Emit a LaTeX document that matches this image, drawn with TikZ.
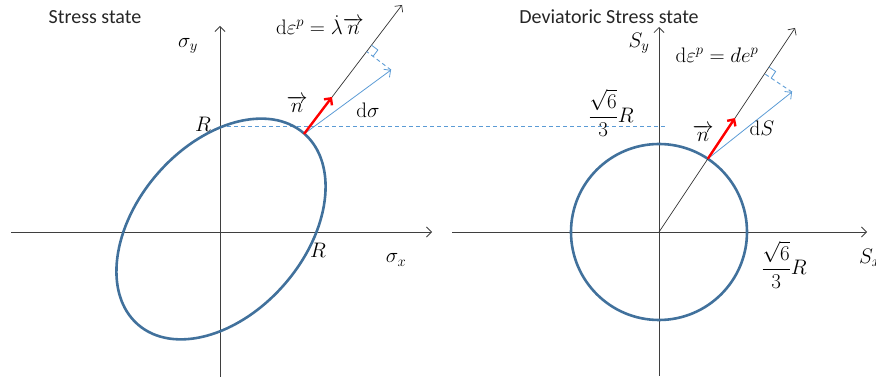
\documentclass[tikz,border=0pt]{standalone}
\usepackage{fix-cm}
\usepackage{amsmath}
\usepackage{fontspec}
\setsansfont{Carlito}
\usetikzlibrary{calc,arrows.meta}
\definecolor{ringblue}{HTML}{41719C}
\definecolor{skyblue}{HTML}{5B9BD5}
\definecolor{axisgray}{HTML}{3F3F3F}

\begin{document}
\begin{tikzpicture}[x=1pt, y=-1pt,
  axis/.style={axisgray, line width=0.8pt, -{Straight Barb[length=5pt, width=10pt]}},
  normal/.style={black!80, line width=0.7pt, -{Straight Barb[length=5pt, width=10pt]}},
  flow/.style={red, line width=2.4pt, -{Straight Barb[length=5pt, width=10pt]}},
  incr/.style={skyblue, line width=0.8pt, -{Straight Barb[length=5pt, width=10pt]}},
  guide/.style={skyblue, line width=0.9pt, dash pattern=on 4pt off 3pt},
  square/.style={skyblue, line width=0.8pt},
  surface/.style={ringblue, line width=2.6pt},
  title/.style={font=\sffamily\fontsize{20}{24}\selectfont, text=black!85},
  lab/.style={font=\fontsize{21}{24}\selectfont, inner sep=1pt}]
  \useasboundingbox (0,0) rectangle (876,379);

  \coordinate (O1) at (220,232);
  \coordinate (E1) at (221,229);
  \coordinate (P1) at (304,134);
  \coordinate (N1) at (332,97);
  \coordinate (T1) at (402,5);
  \coordinate (S1) at (391,70);
  \coordinate (F1) at ($(P1)!(S1)!(T1)$);
  \coordinate (A1) at ($(F1)!8pt!(T1)$);
  \coordinate (B1) at ($(F1)!8pt!(S1)$);

  \coordinate (O2) at (659,232);
  \coordinate (T2) at (795,28);
  \coordinate (P2) at ($(O2)!88pt!(T2)$);
  \coordinate (N2) at ($(O2)!137pt!(T2)$);
  \coordinate (S2) at (792,92);
  \coordinate (F2) at ($(O2)!(S2)!(T2)$);
  \coordinate (A2) at ($(F2)!8pt!(T2)$);
  \coordinate (B2) at ($(F2)!8pt!(S2)$);

  \coordinate (H1) at (220,126);
  \coordinate (H2) at (665,126);
  \draw[guide] (H1) -- (H2);

  \draw[axis] (11,232) coordinate (XL1) -- (432,232) coordinate (XR1);
  \draw[axis] (220,377) coordinate (YB1) -- (220,26) coordinate (YT1);
  \draw[axis] (452,232) coordinate (XL2) -- (867,232) coordinate (XR2);
  \draw[axis] (659,376) coordinate (YB2) -- (659,27) coordinate (YT2);

  \draw[surface, rotate around={49:(E1)}] (E1) ellipse [x radius=126.6pt, y radius=84.2pt];
  \draw[surface] (O2) circle [radius=88pt];

  \draw[normal] (P1) -- (T1);
  \draw[incr] (P1) -- (S1);
  \draw[guide] (S1) -- (F1);
  \draw[square] (A1) -- ($(A1)+(B1)-(F1)$) -- (B1);
  \draw[flow] (P1) -- (N1);

  \draw[normal] (O2) -- (T2);
  \draw[incr] (P2) -- (S2);
  \draw[guide] (S2) -- (F2);
  \draw[square] (A2) -- ($(A2)+(B2)-(F2)$) -- (B2);
  \draw[flow] (P2) -- (N2);

  \node[title] (state1) at (95,17) {Stress state};
  \node[lab] (sy1) at (188,46) {$\sigma_y$};
  \node[lab] (rtop) at (203,124) {$R$};
  \node[lab] (rright) at (318,250) {$R$};
  \node[lab] (sx1) at (396,260) {$\sigma_x$};
  \node[lab] (flow1) at (320,25) {$\mathrm{d}\varepsilon^{p} = \dot{\lambda}\overrightarrow{n}$};
  \node[lab] (n1) at (297,104) {$\overrightarrow{n}$};
  \node[lab] (dsig) at (368,110) {$\mathrm{d}\sigma$};

  \node[title] (state2) at (609,17) {Deviatoric Stress state};
  \node[lab] (sy2) at (639,43) {$S_y$};
  \node[lab] (flow2) at (717,55) {$\mathrm{d}\varepsilon^{p} = de^{p}$};
  \node[lab] (rad2) at (611,113) {$\dfrac{\sqrt{6}}{3}R$};
  \node[lab] (n2) at (703,133) {$\overrightarrow{n}$};
  \node[lab] (dS) at (762,128) {$\mathrm{d}S$};
  \node[lab] (rad3) at (784,265) {$\dfrac{\sqrt{6}}{3}R$};
  \node[lab, anchor=west] (sx2) at (858,258) {$S_x$};
\end{tikzpicture}
\end{document}
